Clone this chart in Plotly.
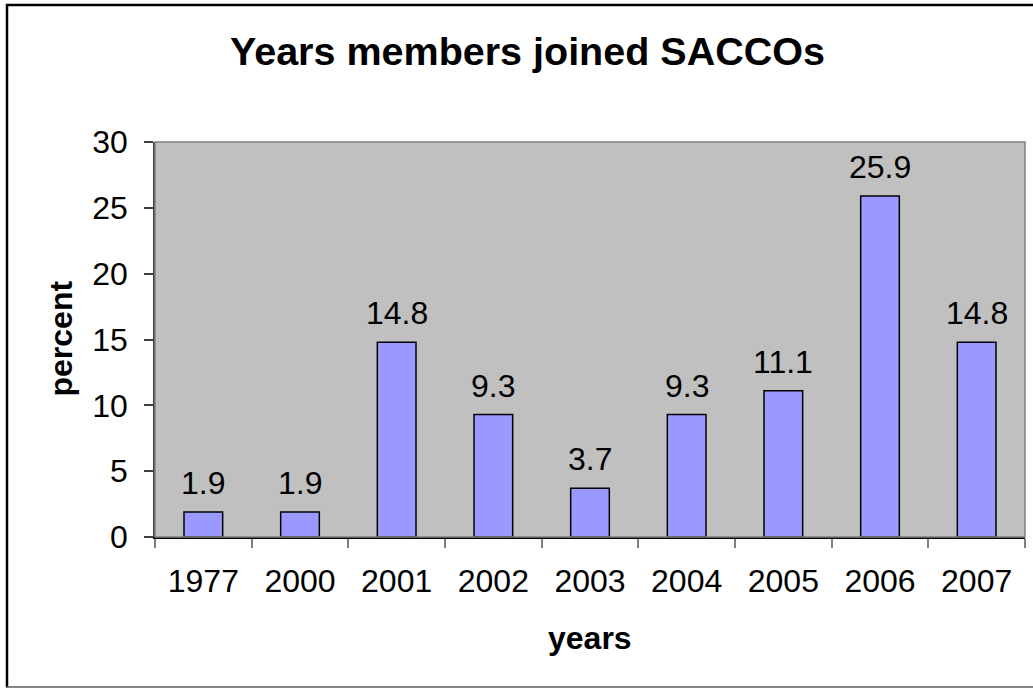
import plotly.graph_objects as go

years = ["1977", "2000", "2001", "2002", "2003", "2004", "2005", "2006", "2007"]
percent = [1.9, 1.9, 14.8, 9.3, 3.7, 9.3, 11.1, 25.9, 14.8]
y_ticks = [0, 5, 10, 15, 20, 25, 30]
title_text = "Years members joined SACCOs"
x_title = "years"
y_title = "percent"

W, H = 1033, 688
L, R, T, B = 155, 8, 142, 151
pw, ph = W - L - R, H - T - B

def px(x):
    return (x - L) / pw

def py(y):
    return (H - B - y) / ph

FONT = "Liberation Sans, Arial, sans-serif"
FS = 32

fig = go.Figure()
fig.add_trace(go.Bar(
    x=years, y=percent, width=0.4,
    marker=dict(color="#9999FF", line=dict(color="black", width=1.5)),
    hoverinfo="x+y",
))

annotations = []
for i, v in enumerate(percent):
    annotations.append(dict(x=i, y=v, xref="x", yref="y", text=f"{v:.1f}",
                            showarrow=False, yanchor="bottom", yshift=9,
                            font=dict(family=FONT, size=FS, color="black")))
annotations.append(dict(x=px(527), y=py(50.5), xref="paper", yref="paper",
                        text=f"<b>{title_text}</b>", showarrow=False,
                        xanchor="center", yanchor="middle",
                        font=dict(family=FONT, size=39.5, color="black")))
annotations.append(dict(x=px(590), y=py(638), xref="paper", yref="paper",
                        text=f"<b>{x_title}</b>", showarrow=False,
                        xanchor="center", yanchor="middle",
                        font=dict(family=FONT, size=FS, color="black")))
annotations.append(dict(x=px(60), y=py(338.5), xref="paper", yref="paper",
                        text=f"<b>{y_title}</b>", showarrow=False, textangle=-90,
                        xanchor="center", yanchor="middle",
                        font=dict(family=FONT, size=FS, color="black")))

shapes = [
    dict(type="rect", xref="paper", yref="paper", x0=0, x1=1, y0=0, y1=1,
         line=dict(color="#808080", width=1.5), layer="above"),
    dict(type="line", xref="paper", yref="paper", x0=px(7), x1=px(7), y0=py(4), y1=py(687.5),
         line=dict(color="black", width=2.5)),
    dict(type="line", xref="paper", yref="paper", x0=px(6), x1=px(1040), y0=py(5), y1=py(5),
         line=dict(color="black", width=2.5)),
    dict(type="line", xref="paper", yref="paper", x0=px(6), x1=px(1040), y0=py(687), y1=py(687),
         line=dict(color="#606060", width=1.5)),
]

fig.update_layout(
    width=W, height=H,
    margin=dict(l=L, r=R, t=T, b=B, pad=0),
    paper_bgcolor="white", plot_bgcolor="#C0C0C0",
    showlegend=False,
    font=dict(family=FONT, size=FS, color="black"),
    annotations=annotations, shapes=shapes,
    bargap=0.6,
)
fig.update_xaxes(
    type="category", range=[-0.5, len(years) - 0.5], autorange=False,
    tickson="boundaries", ticks="outside", ticklen=9, tickangle=0,
    tickcolor="#808080", tickwidth=1.5, showgrid=False,
    showline=True, linecolor="black", linewidth=1.5,
    tickfont=dict(family=FONT, size=FS, color="black"), ticklabelstandoff=15,
)
fig.update_yaxes(
    range=[0, 30], autorange=False, tickvals=y_ticks, ticks="outside", ticklen=9,
    tickcolor="#404040", tickwidth=1.5, showgrid=False, zeroline=False,
    showline=True, linecolor="#404040", linewidth=1.5,
    tickfont=dict(family=FONT, size=FS, color="black"), ticklabelstandoff=10,
)

fig.write_html("out.html")
